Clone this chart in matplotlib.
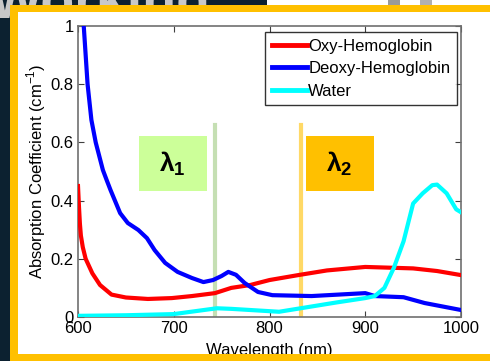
import numpy as np
import matplotlib.pyplot as plt
from matplotlib.patches import Rectangle

plt.rcParams['font.family'] = ['Liberation Sans', 'DejaVu Sans']
plt.rcParams['mathtext.fontset'] = 'custom'
plt.rcParams['mathtext.rm'] = 'Liberation Sans'
plt.rcParams['mathtext.bf'] = 'Liberation Sans:bold'

# absorption spectra (cm^-1) vs wavelength (nm)
wl_deoxy = [606, 610, 614, 618.5, 626, 630, 634, 644, 652, 663, 672, 680, 691, 704, 719, 731, 741, 750,
            757, 765, 774, 788, 803, 844, 900, 910, 940, 962, 1000]
deoxy = [1.0, 0.80, 0.677, 0.60, 0.505, 0.47, 0.436, 0.357, 0.323, 0.299, 0.271, 0.23, 0.186, 0.155,
         0.134, 0.12, 0.127, 0.141, 0.155, 0.145, 0.117, 0.086, 0.075, 0.072, 0.082, 0.072, 0.068,
         0.048, 0.024]

wl_oxy = [600, 601, 602, 603, 605, 608, 615, 623, 635, 650, 673, 698, 719, 743, 760, 780, 800, 830,
          860, 900, 920, 950, 975, 1000]
oxy = [0.45, 0.38, 0.32, 0.28, 0.24, 0.20, 0.15, 0.11, 0.077, 0.067, 0.062, 0.065, 0.072, 0.082, 0.10,
       0.11, 0.127, 0.144, 0.16, 0.172, 0.17, 0.167, 0.158, 0.144]

wl_water = [600, 650, 700, 745, 760, 780, 810, 840, 870, 900, 910, 920, 930, 940, 950, 960, 970, 975,
            985, 995, 1000]
water = [0.004, 0.006, 0.01, 0.03, 0.028, 0.024, 0.018, 0.034, 0.05, 0.065, 0.072, 0.10, 0.17, 0.26,
         0.39, 0.425, 0.453, 0.455, 0.425, 0.37, 0.36]

lambda1 = 743
lambda2 = 833

W, H = 490, 361
fig = plt.figure(figsize=(W / 100, H / 100), dpi=100, facecolor='#0c2130')


def px_rect(x0, y0, x1, y1, **kw):
    # rectangle given in pixel coords, origin at top-left
    r = Rectangle((x0 / W, 1 - y1 / H), (x1 - x0) / W, (y1 - y0) / H,
                  transform=fig.transFigure, linewidth=0, **kw)
    fig.add_artist(r)
    return r


# slide background bits
fig.text(-0.02, 1.06, 'Working', color='#c8c8c8', fontsize=40, fontweight='bold',
         va='top', ha='left', zorder=-5)
px_rect(267, 0, 490, 6, facecolor='white', zorder=-4)
px_rect(388, 0, 400, 6, facecolor='#9a9a9a', zorder=-4)
px_rect(420, 0, 432, 6, facecolor='#b0b0b0', zorder=-4)
px_rect(10, 5, 495, 365, facecolor='#ffc000', zorder=-3)
px_rect(18, 12, 495, 354, facecolor='white', zorder=-2)

ax = fig.add_axes([78 / W, 1 - 317 / H, (461 - 78) / W, (317 - 26) / H])
ax.set_zorder(1)

ax.plot(wl_oxy, oxy, color='#ff0000', lw=3, label='Oxy-Hemoglobin', zorder=3)
ax.plot(wl_deoxy, deoxy, color='#0000ff', lw=3, label='Deoxy-Hemoglobin', zorder=3)
ax.plot(wl_water, water, color='#00ffff', lw=3, label='Water', zorder=3)

# chosen wavelengths with their tags
ax.plot([lambda1, lambda1], [0, 0.66], color='#c5dfb3', lw=3, zorder=2)
ax.plot([lambda2, lambda2], [0, 0.66], color='#ffd966', lw=3, zorder=2)
ax.add_patch(Rectangle((664, 0.433), 71, 0.189, facecolor='#ccff99', edgecolor='none', zorder=4))
ax.add_patch(Rectangle((838, 0.433), 71, 0.189, facecolor='#ffc000', edgecolor='none', zorder=4))
ax.text(699, 0.525, r'$\mathbf{\lambda_1}$', ha='center', va='center', fontsize=19, zorder=5)
ax.text(873, 0.525, r'$\mathbf{\lambda_2}$', ha='center', va='center', fontsize=19, zorder=5)

ax.set_xlim(600, 1000)
ax.set_ylim(0, 1)
ax.set_xticks([600, 700, 800, 900, 1000])
ax.set_yticks([0, 0.2, 0.4, 0.6, 0.8, 1])
ax.set_yticklabels(['0', '0.2', '0.4', '0.6', '0.8', '1'])
ax.tick_params(direction='in', top=True, right=True, length=4, labelsize=12,
               color='#404040', pad=3)
for s in ax.spines.values():
    s.set_color('#707070')
    s.set_linewidth(1.2)

ax.set_xlabel('Wavelength (nm)', fontsize=12, va='top')
ax.xaxis.set_label_coords(0.5, -0.09)
ax.set_ylabel('Absorption Coefficient (cm$^{-1}$)', fontsize=12, va='center')
ax.yaxis.set_label_coords(-0.11, 0.5)

leg = ax.legend(loc='upper right', bbox_to_anchor=(0.9896, 0.979), fontsize=12, frameon=True,
                fancybox=False, borderpad=0.4, labelspacing=0.45, handlelength=2.1,
                handletextpad=0.1, borderaxespad=0)
leg.get_frame().set_edgecolor('black')
leg.get_frame().set_linewidth(1)
for line in leg.get_lines():
    line.set_linewidth(3.5)

# bottom edge of the frame sits over the axis label
px_rect(10, 354, 495, 365, facecolor='#ffc000', zorder=5)

fig.savefig('out.png', dpi=100, facecolor=fig.get_facecolor())
